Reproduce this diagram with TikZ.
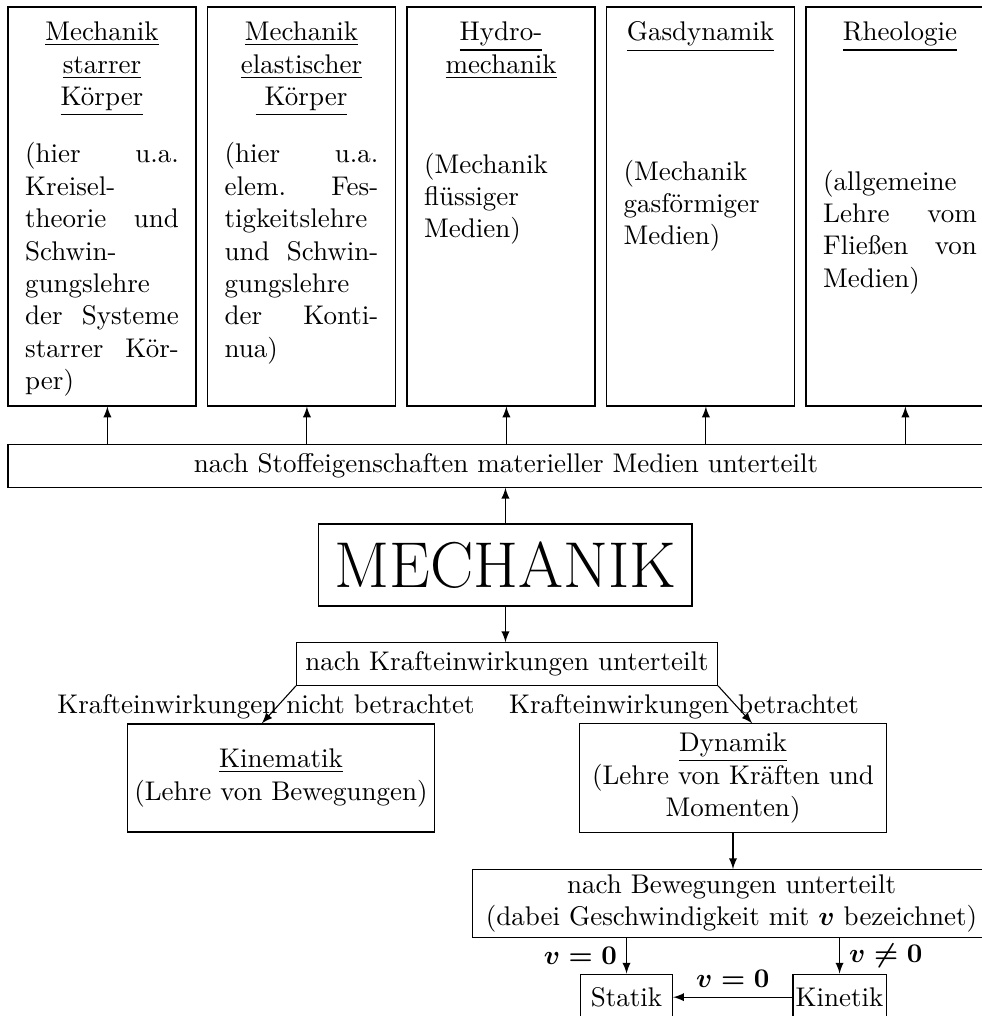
\documentclass[tikz,border=0pt]{standalone}
\usepackage{amsmath}
\usetikzlibrary{positioning}

\tikzset{
  kasten/.style={draw, align=flush center},
  spalte/.style={draw, minimum width=2.447cm, minimum height=5.194cm},
  titel/.style={anchor=north, inner sep=0pt, text width=2cm, align=flush center},
  inhalt/.style={anchor=north, inner sep=0pt, text width=2cm, align=justify},
  pfeil/.style={-latex},
}

\begin{document}
\begin{tikzpicture}
     \useasboundingbox (0,0) rectangle (12.783,13.226);

     \node [spalte] (starr) at (1.328,10.538) {};
     \node [spalte] (elast) at (3.925,10.538) {};
     \node [spalte] (hydro) at (6.522,10.538) {};
     \node [spalte] (gas)   at (9.119,10.538) {};
     \node [spalte] (rheo)  at (11.716,10.538) {};

     \node [titel] (starrT) at ([yshift=-0.195cm]starr.north) {\underline{Mechanik}\\\underline{starrer}\\\underline{K\"orper}};
     \node [titel] (elastT) at ([yshift=-0.195cm]elast.north) {\underline{Mechanik}\\\underline{elastischer}\\\underline{\ K\"orper}};
     \node [titel] (hydroT) at ([yshift=-0.195cm]hydro.north) {\underline{Hydro-}\\\underline{mechanik}};
     \node [titel] (gasT)   at ([yshift=-0.195cm]gas.north) {\underline{Gasdynamik}};
     \node [titel] (rheoT)  at ([yshift=-0.195cm]rheo.north) {\underline{Rheologie}};

     \node [inhalt] (starrD) at ([yshift=-1.767cm]starr.north) {(hier u.a.\linebreak Kreisel-\linebreak theorie und\linebreak Schwin-\linebreak gungslehre\linebreak der Systeme\linebreak starrer K\"or-\linebreak per)};
     \node [inhalt] (elastD) at ([yshift=-1.767cm]elast.north) {(hier u.a.\linebreak elem. Fes-\linebreak tigkeitslehre\linebreak und Schwin-\linebreak gungslehre\linebreak der Konti-\linebreak nua)};
     \node [inhalt] (hydroD) at ([yshift=-1.900cm]hydro.north) {(Mechanik\linebreak fl\"ussiger\linebreak Medien)};
     \node [inhalt] (gasD)   at ([yshift=-1.990cm]gas.north) {(Mechanik\linebreak gasf\"ormiger\linebreak Medien)};
     \node [inhalt] (rheoD)  at ([yshift=-2.120cm]rheo.north) {(allgemeine\linebreak Lehre vom\linebreak Flie\ss en von\linebreak Medien)};

     \node [kasten, minimum width=12.966cm] (stoff) at (6.587,7.160) {nach Stoffeigenschaften materieller Medien unterteilt};

     \coordinate (p1) at ([xshift=0.07cm]starr.south);
     \coordinate (p2) at ([xshift=0.07cm]elast.south);
     \coordinate (p3) at ([xshift=0.07cm]hydro.south);
     \coordinate (p4) at ([xshift=0.07cm]gas.south);
     \coordinate (p5) at ([xshift=0.07cm]rheo.south);
     \draw [pfeil] (p1 |- stoff.north) -- (p1);
     \draw [pfeil] (p2 |- stoff.north) -- (p2);
     \draw [pfeil] (p3 |- stoff.north) -- (p3);
     \draw [pfeil] (p4 |- stoff.north) -- (p4);
     \draw [pfeil] (p5 |- stoff.north) -- (p5);

     \node [kasten, font=\fontsize{24}{29}\selectfont, inner sep=0pt, minimum width=4.856cm, minimum height=1.067cm] (mech) at (6.580,5.871) {MECHANIK};
     \draw [pfeil] (mech.north) -- (mech.north |- stoff.south);

     \node [kasten] (kraft) at (6.600,4.582) {nach Krafteinwirkungen unterteilt};
     \draw [pfeil] (mech.south) -- (mech.south |- kraft.north);

     \node [anchor=base] (ohne) at (3.463,3.944) {Krafteinwirkungen nicht betrachtet};
     \node [anchor=base] (mit)  at (8.904,3.944) {Krafteinwirkungen betrachtet};

     \node [kasten, text width=3.95cm, inner xsep=0.5pt, minimum height=1.406cm] (kin) at (3.658,3.098) {\underline{Kinematik}\\(Lehre von Bewegungen)};
     \node [kasten, text width=3.95cm, inner xsep=0.5pt, minimum height=1.406cm] (dyn) at (9.542,3.098) {\underline{Dynamik}\\(Lehre von Kr\"aften und\\Momenten)};
     \draw [pfeil] (kraft.south west) -- ([xshift=-0.25cm]kin.north);
     \draw [pfeil] (kraft.south east) -- ([xshift=0.25cm]dyn.north);

     \node [kasten, text width=6.5cm, inner ysep=1.8pt] (bew) at (9.523,1.465) {nach Bewegungen unterteilt\\(dabei Geschwindigkeit mit $\boldsymbol{v}$ bezeichnet)};
     \draw [pfeil] (dyn.south) -- (dyn.south |- bew.north);

     \node [kasten, inner xsep=1pt, minimum width=1.2cm, minimum height=0.6cm] (stat)  at (8.156,0.245) {Statik};
     \node [kasten, inner xsep=1pt, minimum width=1.2cm, minimum height=0.6cm] (kinet) at (10.929,0.245) {Kinetik};

     \coordinate (s1) at (bew.south -| stat.north);
     \coordinate (s2) at (bew.south -| kinet.north);
     \draw [pfeil] (s1) -- (stat.north) node [midway, left] (vs) {$\boldsymbol{v=0}$};
     \draw [pfeil] (s2) -- (kinet.north) node [midway, right] (vk) {$\boldsymbol{v\neq0}$};
     \draw [pfeil] (kinet.west) -- (stat.east) node [midway, above] (vks) {$\boldsymbol{v=0}$};
\end{tikzpicture}
\end{document}
